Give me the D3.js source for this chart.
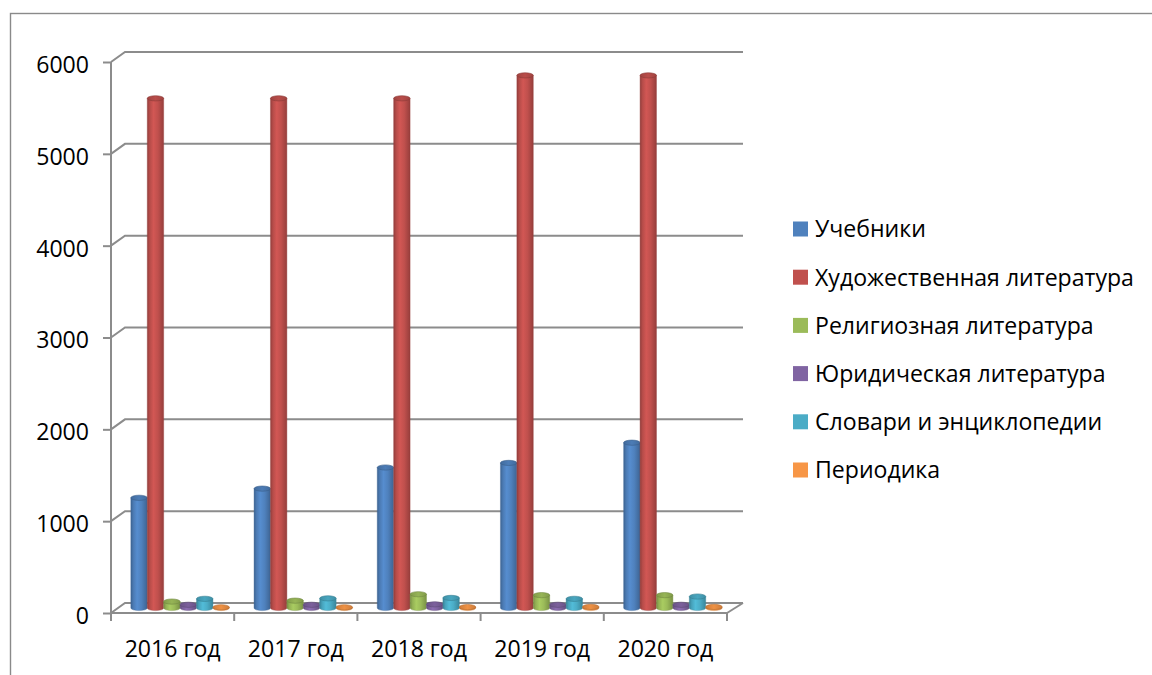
<!DOCTYPE html>
<html>
<head>
<meta charset="utf-8">
<script src="https://cdn.jsdelivr.net/npm/d3@7/dist/d3.min.js"></script>
<style>
  html, body { margin: 0; padding: 0; background: #fff; }
  svg { display: block; }
  text { font-family: "Open Sans", "Noto Sans", sans-serif; fill: #000; }
</style>
</head>
<body>
<svg id="chart" width="1152" height="675"></svg>
<script>
// ---------------- DATA ----------------
const categories = ["2016 год", "2017 год", "2018 год", "2019 год", "2020 год"];
const seriesNames = [
  "Учебники",
  "Художественная литература",
  "Религиозная литература",
  "Юридическая литература",
  "Словари и энциклопедии",
  "Периодика"
];
const textbooks    = [1200, 1300, 1530, 1580, 1800];
const fiction      = [5550, 5550, 5550, 5800, 5800];
const religious    = [70, 80, 150, 140, 140];
const legal        = [35, 35, 40, 35, 35];
const dictionaries = [100, 105, 110, 100, 125];
const periodicals  = [8, 8, 10, 12, 12];
const yTickValues  = [0, 1000, 2000, 3000, 4000, 5000, 6000];
const seriesValues = [textbooks, fiction, religious, legal, dictionaries, periodicals];
const seriesColors = ["#4F81BD", "#C0504D", "#9BBB59", "#8064A2", "#4BACC6", "#F79646"];

// ---------------- LAYOUT ----------------
const svg = d3.select("#chart");
const gridColor = "#8c8c8c";
const frontLeft = 111, frontRight = 727;
const depthDx = 15, depthDy = 10;

const x0 = d3.scaleBand().domain(categories).range([frontLeft, frontRight]).paddingInner(0).paddingOuter(0);
const groupW = 98.5;
const x1 = d3.scaleBand().domain(seriesNames)
  .range([x0.bandwidth() / 2 - groupW / 2, x0.bandwidth() / 2 + groupW / 2]).padding(0);
const y = d3.scaleLinear().domain([0, 6000]).range([613, 62]);

// chart border
svg.append("rect").attr("x", 10.5).attr("y", 13.5).attr("width", 1300).attr("height", 800)
  .attr("fill", "none").attr("stroke", "#8a8a8a").attr("stroke-width", 1.4);

// defs: gradients for cylinders
const defs = svg.append("defs");
seriesColors.forEach((c, i) => {
  const base = d3.color(c);
  const g = defs.append("linearGradient").attr("id", "body" + i)
    .attr("x1", "0%").attr("x2", "100%").attr("y1", "0%").attr("y2", "0%");
  g.append("stop").attr("offset", "0%").attr("stop-color", base.darker(0.75));
  g.append("stop").attr("offset", "15%").attr("stop-color", base.darker(0.15));
  g.append("stop").attr("offset", "38%").attr("stop-color", base.brighter(0.25));
  g.append("stop").attr("offset", "65%").attr("stop-color", base);
  g.append("stop").attr("offset", "100%").attr("stop-color", base.darker(0.7));
  const t = defs.append("linearGradient").attr("id", "top" + i)
    .attr("x1", "0%").attr("x2", "100%").attr("y1", "0%").attr("y2", "0%");
  t.append("stop").attr("offset", "0%").attr("stop-color", base.darker(0.5));
  t.append("stop").attr("offset", "50%").attr("stop-color", base.darker(0.1));
  t.append("stop").attr("offset", "100%").attr("stop-color", base.darker(0.5));
});

// gridlines (back wall + side wall)
const grid = svg.append("g");
yTickValues.forEach(v => {
  const yf = y(v), yb = y(v) - depthDy;
  grid.append("path")
    .attr("d", `M${frontLeft},${yf} L${frontLeft + depthDx - 1},${yb} L${frontRight + depthDx + 1},${yb}`)
    .attr("fill", "none").attr("stroke", gridColor).attr("stroke-width", 2);
});
// floor right edge
grid.append("line")
  .attr("x1", frontRight).attr("y1", y(0)).attr("x2", frontRight + depthDx + 1).attr("y2", y(0) - depthDy)
  .attr("stroke", gridColor).attr("stroke-width", 2);

// Y axis
const yAxisG = svg.append("g").attr("transform", `translate(${frontLeft},0)`)
  .call(d3.axisLeft(y).tickValues(yTickValues).tickSize(8).tickPadding(14).tickFormat(d3.format("d")));
yAxisG.select(".domain").attr("stroke", gridColor).attr("stroke-width", 2).attr("d", `M0,${y(6000)}V${y(0)}`);
yAxisG.selectAll(".tick line").attr("stroke", gridColor).attr("stroke-width", 2);
yAxisG.selectAll(".tick text").attr("font-family", null).attr("fill", "#000").attr("dy", "0.45em").attr("class", "lbl");

// X axis
const xAxisG = svg.append("g").attr("transform", `translate(0,${y(0)})`)
  .call(d3.axisBottom(x0).tickSize(0).tickPadding(0));
xAxisG.select(".domain").attr("stroke", gridColor).attr("stroke-width", 2).attr("d", `M${frontLeft},0H${frontRight}`);
xAxisG.selectAll(".tick text").attr("font-family", null).attr("fill", "#000").attr("y", 44).attr("dy", 0).attr("class", "lbl");
// boundary ticks
const bounds = categories.map(c => x0(c)).concat([frontRight]);
xAxisG.selectAll(".btick").data(bounds).enter().append("line")
  .attr("x1", d => d).attr("x2", d => d).attr("y1", 0).attr("y2", 8)
  .attr("stroke", gridColor).attr("stroke-width", 2);

// Bars (cylinders)
const rx = x1.bandwidth() / 2, ry = 2.6;
const barsG = svg.append("g");
categories.forEach((cat, ci) => {
  seriesNames.forEach((s, si) => {
    const v = seriesValues[si][ci];
    const xl = x0(cat) + x1(s) + depthDx / 2;
    const xr = xl + x1.bandwidth();
    const yBase = y(0) - depthDy / 2;
    const yTop = y(v) - depthDy / 2;
    const col = d3.color(seriesColors[si]);
    barsG.append("path")
      .attr("d", `M${xl},${yTop} L${xl},${yBase} A${rx},${ry} 0 0 0 ${xr},${yBase} L${xr},${yTop} Z`)
      .attr("fill", `url(#body${si})`)
      .attr("stroke", col.darker(0.6)).attr("stroke-width", 0.4);
    barsG.append("ellipse")
      .attr("cx", (xl + xr) / 2).attr("cy", yTop).attr("rx", rx).attr("ry", ry)
      .attr("fill", `url(#top${si})`)
      .attr("stroke", col.darker(0.9)).attr("stroke-width", 0.6);
  });
});

// Legend
const legend = svg.append("g");
const legY0 = 229, legStep = 48.2;
seriesNames.forEach((s, i) => {
  legend.append("rect").attr("x", 793).attr("y", legY0 + i * legStep - 7.5)
    .attr("width", 15).attr("height", 15).attr("fill", seriesColors[i]);
  legend.append("text").attr("class", "lbl leg").attr("x", 815).attr("y", legY0 + i * legStep)
    .attr("dy", "0.36em").text(s);
});

// fit font size so that legend width matches the reference layout
const allText = svg.selectAll("text.lbl").attr("font-size", 24);
let maxW = 0;
svg.selectAll("text.leg").each(function () { maxW = Math.max(maxW, this.getComputedTextLength()); });
const fs = Math.min(24, 24 * 319 / maxW);
allText.attr("font-size", fs);
</script>
</body>
</html>
